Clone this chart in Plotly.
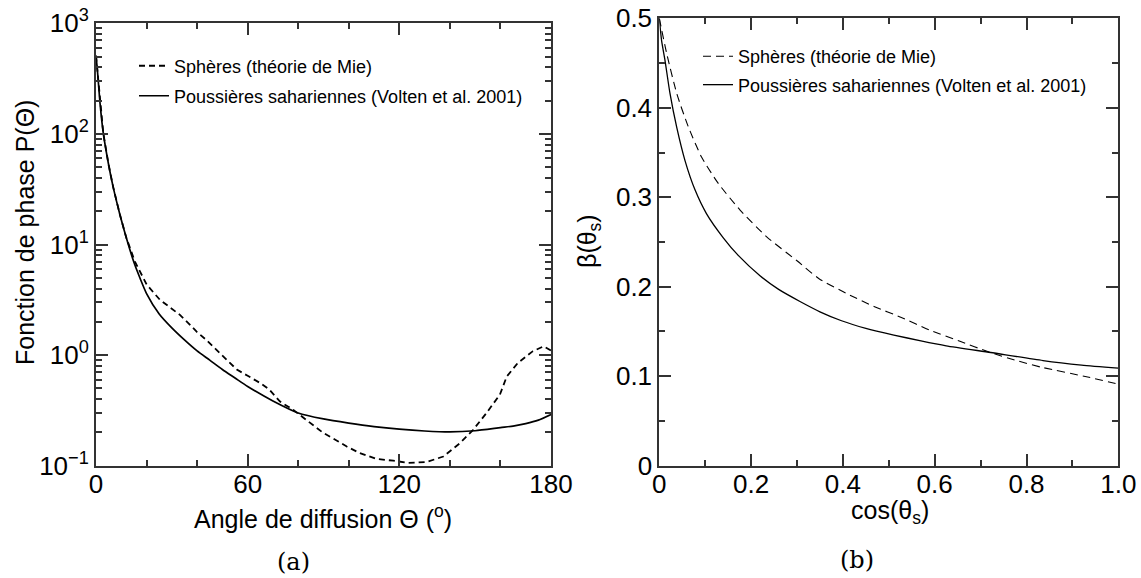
import plotly.graph_objects as go

# ---------------- data ----------------
# Panel (a): phase function P(Theta) vs scattering angle (degrees)
theta_volten = [0, 0.5, 1, 1.6, 2.9, 4.9, 6.8, 9.5, 12, 15, 17.5, 20, 25, 30, 35, 40, 45,
                50, 55, 60, 70, 80, 90, 100, 110, 120, 130, 140, 150, 160, 165, 170, 175, 180]
p_volten = [510, 390, 280, 189, 101, 54, 33, 18.5, 11.5, 6.9, 4.9, 3.6, 2.35, 1.76, 1.37, 1.09, 0.9,
            0.74, 0.62, 0.52, 0.385, 0.30, 0.265, 0.243, 0.226, 0.214, 0.206, 0.202, 0.207, 0.221,
            0.228, 0.24, 0.258, 0.29]

theta_mie = [0, 0.5, 1, 1.6, 2.9, 4.9, 6.8, 9.5, 12, 15.4, 20.1, 25.3, 30, 33.2, 36.5, 39.8, 43.5,
             47.7, 51.5, 55.7, 60, 64.9, 68.5, 72.8, 78, 83.3, 89.9, 95, 99.2, 104.4, 111, 117.6,
             123.5, 130.8, 137.4, 144, 149.2, 154.5, 159.8, 162.5, 166.9, 172.7, 177.1, 180]
p_mie = [510, 390, 280, 189, 101, 54, 33, 18.5, 11.5, 7.0, 4.32, 3.16, 2.6, 2.31, 1.95, 1.63, 1.38,
         1.12, 0.92, 0.74, 0.65, 0.56, 0.49, 0.38, 0.32, 0.26, 0.198, 0.17, 0.149, 0.130, 0.115,
         0.111, 0.106, 0.108, 0.121, 0.16, 0.211, 0.30, 0.44, 0.64, 0.85, 1.08, 1.2, 1.1]

# Panel (b): beta(theta_s) vs cos(theta_s)
mu_volten = [0, 0.005, 0.0124, 0.0233, 0.038, 0.056, 0.078, 0.103, 0.139, 0.172, 0.22, 0.26,
             0.3065, 0.35, 0.397, 0.45, 0.511, 0.57, 0.625, 0.722, 0.836, 0.92, 1.0]
beta_volten = [0.5, 0.475, 0.453, 0.416, 0.378, 0.341, 0.308, 0.2815, 0.255, 0.235, 0.212, 0.197,
               0.1835, 0.172, 0.162, 0.1535, 0.146, 0.1395, 0.134, 0.1265, 0.1175, 0.1125, 0.109]

mu_mie = [0, 0.016, 0.038, 0.063, 0.092, 0.1285, 0.176, 0.234, 0.30, 0.348, 0.41, 0.469, 0.526,
          0.59, 0.655, 0.7185, 0.775, 0.832, 0.936, 1.0]
beta_mie = [0.5, 0.461, 0.416, 0.379, 0.345, 0.3155, 0.2857, 0.2558, 0.229, 0.209, 0.192, 0.1776,
            0.166, 0.1513, 0.139, 0.127, 0.118, 0.1101, 0.0988, 0.0911]

name_mie = "Sphères (théorie de Mie)"
name_volten = "Poussières sahariennes (Volten et al. 2001)"

# tick labels / tick positions
a_xticks = [0, 60, 120, 180]
a_xminor = [20, 40, 80, 100, 140, 160]
a_yticks = [0.1, 1, 10, 100, 1000]
a_yticktext = ["10<sup>\u22121</sup>", "10<sup>0</sup>", "10<sup>1</sup>", "10<sup>2</sup>", "10<sup>3</sup>"]
a_yminor = [m * 10 ** e for e in (-1, 0, 1, 2) for m in range(2, 10)]
b_xticks = [0, 0.2, 0.4, 0.6, 0.8, 1.0]
b_xticktext = ["0", "0.2", "0.4", "0.6", "0.8", "1.0"]
b_xminor = [0.1, 0.3, 0.5, 0.7, 0.9]
b_yticks = [0, 0.1, 0.2, 0.3, 0.4, 0.5]
b_yticktext = ["0", "0.1", "0.2", "0.3", "0.4", "0.5"]
b_yminor = [0.05, 0.15, 0.25, 0.35, 0.45]

# ---------------- layout helpers ----------------
W, H = 1141, 578
ML, MR, MT, MB = 10, 20, 10, 10
PW, PH = W - ML - MR, H - MT - MB
SANS = "Liberation Sans, Arial, Helvetica, sans-serif"
SERIF = "DejaVu Serif, serif"
AX = "#333333"

def px(x):
    return (x - ML) / PW

def py(y):
    return 1 - (y - MT) / PH

fig = go.Figure()

fig.add_trace(go.Scatter(x=theta_mie, y=p_mie, mode="lines", name=name_mie,
                         line=dict(color="black", width=1.8, dash="6px,4px"),
                         xaxis="x", yaxis="y", legend="legend", legendgroup="a1"))
fig.add_trace(go.Scatter(x=theta_volten, y=p_volten, mode="lines", name=name_volten,
                         line=dict(color="black", width=1.7, shape="spline", smoothing=0.6),
                         xaxis="x", yaxis="y", legend="legend", legendgroup="a2"))
fig.add_trace(go.Scatter(x=mu_mie, y=beta_mie, mode="lines", name=name_mie,
                         line=dict(color="black", width=1.1, dash="8px,5px", shape="spline", smoothing=0.6),
                         xaxis="x2", yaxis="y2", legend="legend2", legendgroup="b1"))
fig.add_trace(go.Scatter(x=mu_volten, y=beta_volten, mode="lines", name=name_volten,
                         line=dict(color="black", width=1.3, shape="spline", smoothing=0.6),
                         xaxis="x2", yaxis="y2", legend="legend2", legendgroup="b2"))


def axis(domain, rng, tickvals, ticktext, minorvals, anchor, log=False, standoff=0):
    d = dict(domain=domain, range=rng, tickmode="array", tickvals=tickvals,
             showline=True, linecolor=AX, linewidth=2, mirror="allticks",
             ticks="inside", ticklen=12, tickwidth=2, tickcolor=AX,
             showgrid=False, zeroline=False, layer="above traces", automargin=False,
             ticklabelstandoff=standoff,
             tickfont=dict(family=SANS, size=26, color="black"), anchor=anchor,
             minor=dict(tickmode="array", tickvals=minorvals, ticks="inside", ticklen=6,
                        tickwidth=2, tickcolor=AX, showgrid=False))
    if ticktext is not None:
        d["ticktext"] = ticktext
    if log:
        d["type"] = "log"
    return d


fig.update_layout(
    width=W, height=H, autosize=False,
    # top margin starts 1px short; the post-script sets it to MT, which forces a full redraw
    margin=dict(l=ML, r=MR, t=MT - 1, b=MB),
    paper_bgcolor="white", plot_bgcolor="white",
    font=dict(family=SANS, color="black"),
    xaxis=axis([px(96), px(551)], [0, 180], a_xticks, None, a_xminor, "y", standoff=-6),
    yaxis=axis([py(465.7), py(23.3)], [-1, 3], a_yticks, a_yticktext, a_yminor, "x", log=True),
    xaxis2=axis([px(659.3), px(1118.3)], [0, 1], b_xticks, b_xticktext, b_xminor, "y2", standoff=-6),
    yaxis2=axis([py(465.7), py(18.3)], [0, 0.5], b_yticks, b_yticktext, b_yminor, "x2"),
    legend=dict(x=px(134), y=py(48.5), xanchor="left", yanchor="top", bgcolor="rgba(0,0,0,0)",
                font=dict(family=SANS, size=18, color="black"), traceorder="grouped",
                tracegroupgap=3.6, itemwidth=30, borderwidth=0),
    legend2=dict(x=px(698), y=py(39), xanchor="left", yanchor="top", bgcolor="rgba(0,0,0,0)",
                 font=dict(family=SANS, size=18, color="black"), traceorder="grouped",
                 tracegroupgap=2, itemwidth=30, borderwidth=0),
    showlegend=True,
)

ann = [
    dict(text="Angle de diffusion \u0398 (<sup>o</sup>)", x=px(323.5), y=py(517),
         font=dict(family=SANS, size=25)),
    dict(text="cos(\u03b8<sub>s</sub>)", x=px(890), y=py(512), font=dict(family=SANS, size=25)),
    dict(text="Fonction de phase P(\u0398)", x=px(25), y=py(233), textangle=-90,
         font=dict(family=SANS, size=25)),
    dict(text="\u03b2(\u03b8<sub>s</sub>)", x=px(589), y=py(241), textangle=-90,
         font=dict(family=SANS, size=25)),
    dict(text="(a)", x=px(293), y=py(562), font=dict(family=SERIF, size=24)),
    dict(text="(b)", x=px(856.7), y=py(560), font=dict(family=SERIF, size=24)),
]
for a in ann:
    a.update(xref="paper", yref="paper", xanchor="center", yanchor="middle", showarrow=False)
    a["font"]["color"] = "black"
fig.update_layout(annotations=ann)

post = """
var gd = document.getElementById('{plot_id}');
if (gd && window.Plotly) {
    Plotly.relayout(gd, {'margin.t': %d});
}
""" % MT

fig.write_html("out.html", post_script=post)
